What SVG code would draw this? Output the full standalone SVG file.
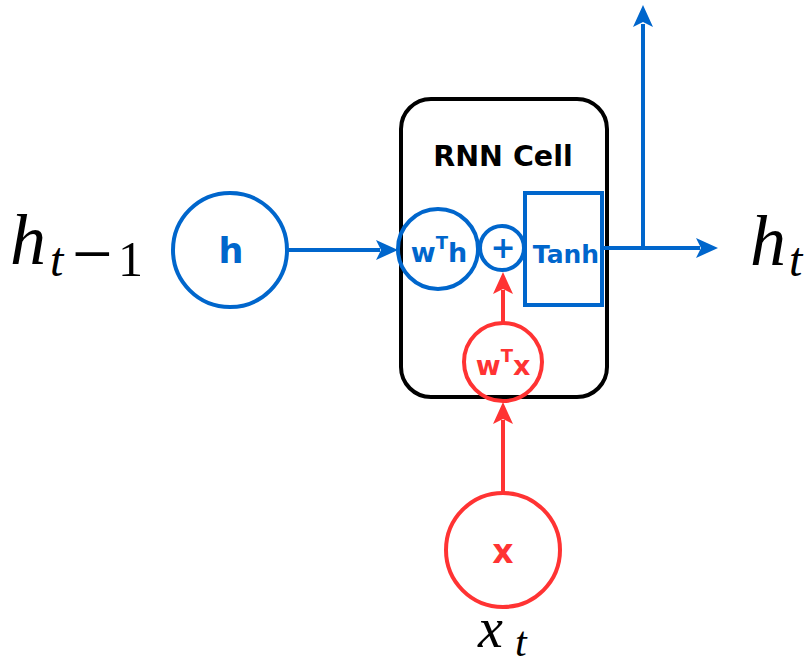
<svg xmlns="http://www.w3.org/2000/svg" width="811" height="665" viewBox="0 0 811 665">
<style>
.b{fill:none;stroke:#0066cc;stroke-width:4}
.r{fill:none;stroke:#ff3333;stroke-width:4}
.lb{font-family:"DejaVu Sans",sans-serif;font-weight:bold;fill:#0066cc;text-anchor:middle}
.lr{font-family:"DejaVu Sans",sans-serif;font-weight:bold;fill:#ff3333;text-anchor:middle}
.m{font-family:"Liberation Serif","DejaVu Serif",serif;font-style:italic;fill:#000}
.mu{font-family:"Liberation Serif","DejaVu Serif",serif;font-style:normal}
</style>
<g id="cell">
<rect x="401" y="99" width="206" height="298" rx="30" ry="30" fill="#fff" stroke="#000" stroke-width="4"/>
<text x="503" y="166" font-family="DejaVu Sans,sans-serif" font-weight="bold" font-size="28.5" text-anchor="middle">RNN Cell</text>
</g>
<g id="connectors">
<line x1="288" y1="250" x2="380" y2="250" class="b"/>
<path d="M398,250 L376,240 L381,250 L376,260 Z" fill="#0066cc"/>
<line x1="603" y1="248" x2="700" y2="248" class="b"/>
<path d="M718,248 L696,238 L701,248 L696,258 Z" fill="#0066cc"/>
<line x1="643" y1="248" x2="643" y2="24" class="b"/>
<path d="M643,5 L633,27 L643,22 L653,27 Z" fill="#0066cc"/>
<line x1="503" y1="323" x2="503" y2="290" class="r"/>
<path d="M503,272 L493,294 L503,289 L513,294 Z" fill="#ff3333"/>
<line x1="503" y1="493" x2="503" y2="420" class="r"/>
<path d="M503,402 L493,424 L503,419 L513,424 Z" fill="#ff3333"/>
</g>
<g id="h">
<circle cx="230" cy="250" r="57" fill="#fff" class="b"/>
<text x="231" y="263" class="lb" font-size="35">h</text>
</g>
<g id="wth">
<circle cx="438" cy="249" r="40" fill="#fff" class="b"/>
<text x="439" y="262" class="lb" font-size="27">w<tspan font-size="18" dy="-13">T</tspan><tspan dy="13">h</tspan></text>
</g>
<g id="plus">
<circle cx="502" cy="248" r="22" fill="#fff" class="b"/>
<text x="503" y="258" class="lb" font-size="30">+</text>
</g>
<g id="tanh">
<rect x="525" y="193" width="77" height="112" fill="#fff" stroke="#0066cc" stroke-width="4"/>
<text x="566" y="263" class="lb" font-size="25">Tanh</text>
</g>
<g id="wtx">
<circle cx="503" cy="362" r="39" fill="#fff" class="r"/>
<text x="503" y="375" class="lr" font-size="27">w<tspan font-size="18" dy="-13">T</tspan><tspan dy="13">x</tspan></text>
</g>
<g id="x">
<circle cx="503" cy="550" r="57" fill="#fff" class="r"/>
<text x="503" y="563" class="lr" font-size="33">x</text>
</g>
<g id="labels">
<text class="m" font-size="72"><tspan x="10" y="264">h</tspan><tspan x="50" y="276" font-size="48">t</tspan><tspan class="mu" x="72" y="278" font-size="72">−</tspan><tspan class="mu" x="118" y="276" font-size="50">1</tspan></text>
<text class="m" font-size="72"><tspan x="750" y="265">h</tspan><tspan x="789" y="276" font-size="48">t</tspan></text>
<text class="m" font-size="56"><tspan x="478" y="647">x</tspan><tspan x="515" y="656" font-size="42">t</tspan></text>
</g>
</svg>
